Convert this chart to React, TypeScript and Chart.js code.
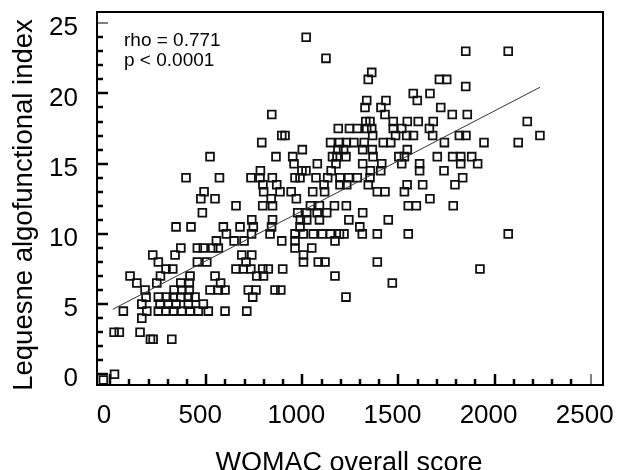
import React, { useEffect, useRef } from "react";
import { Chart, registerables } from "chart.js";

Chart.register(...registerables);

// Lequesne index levels (y) and the WOMAC scores (x) of the patients at each level
const lequesneLevels = [
  24, 23, 22.5, 21.5, 21, 20.5, 20, 19.5, 19, 18.5, 18, 17.5, 17, 16.5, 16, 15.5, 15, 14.5, 14, 13.5, 13, 12.5, 12,
  11.5, 11, 10.5, 10, 9.5, 9, 8.5, 8, 7.5, 7, 6.5, 6, 5.5, 5, 4.5, 4, 3, 2.5, 0, -0.4,
];
const womacByLevel = [
  [1020],
  [1850, 2071],
  [1123],
  [1361],
  [1343, 1713, 1751],
  [1850],
  [1577, 1664],
  [1335, 1435, 1598],
  [1326, 1409, 1720],
  [841, 1430, 1780, 1858],
  [1330, 1352, 1473, 1546, 1603, 1681, 2170],
  [1187, 1245, 1286, 1335, 1361, 1473, 1517, 1661],
  [893, 910, 1366, 1485, 1543, 1578, 1678, 1817, 1851, 2236],
  [789, 1147, 1193, 1229, 1268, 1322, 1421, 1460, 1739, 1945, 2123],
  [1000, 1185, 1215, 1314, 1364, 1546],
  [520, 863, 950, 1157, 1180, 1227, 1368, 1502, 1531, 1702, 1782, 1824, 1881],
  [957, 1078, 1175, 1314, 1413, 1517, 1610, 1824, 1912],
  [782, 998, 1019, 1150, 1354, 1408, 1610, 1737],
  [395, 569, 733, 780, 844, 962, 988, 1071, 1132, 1196, 1241, 1286, 1352, 1834],
  [795, 867, 1113, 1196, 1231, 1343, 1545, 1626, 1794],
  [489, 799, 884, 942, 1054, 1116, 1390, 1430, 1531],
  [472, 546, 838, 969, 1664],
  [655, 794, 845, 1042, 1089, 1167, 1229, 1551, 1593, 1785],
  [480, 976, 1023, 1077, 1127, 1314],
  [737, 845, 990, 1023, 1089, 1242, 1447],
  [343, 421, 589, 676, 745, 840, 988, 1299],
  [605, 736, 832, 962, 1005, 1057, 1104, 1146, 1193, 1217, 1312, 1390, 1551, 2071],
  [553, 645, 697, 893, 962, 1170],
  [368, 454, 485, 534, 563, 962, 1049],
  [222, 338, 685, 737, 1006],
  [251, 454, 503, 707, 1006, 1083, 1118, 1390],
  [291, 326, 655, 693, 732, 794, 823, 898, 1924],
  [104, 262, 416, 546, 763, 798, 1170],
  [139, 243, 368, 412, 575, 1468],
  [182, 333, 373, 412, 520, 563, 598, 719, 759, 858, 888],
  [187, 251, 295, 329, 368, 407, 442, 742, 1227],
  [165, 260, 303, 343, 407, 485],
  [69, 191, 251, 291, 329, 373, 416, 459, 511, 598, 711],
  [165],
  [21, 48, 156],
  [210, 224, 321],
  [23],
  [-35],
];

// Regression line end points
const fitLineX = [14, 2236];
const fitLineY = [4.63, 20.44];

// Axes
const xTickValues = [0, 500, 1000, 1500, 2000, 2500];
const yTickValues = [0, 5, 10, 15, 20, 25];
const xMinorStep = 100;
const yMinorStep = 1;
const xAxisTitle = "WOMAC overall score";
const yAxisTitle = "Lequesne algofunctional index";
const statLines = ["rho = 0.771", "p < 0.0001"];

const FONT = '"Liberation Sans", Arial, Helvetica, sans-serif';

const framePlugin = {
  id: "frameAndTicks",
  afterDraw(chart: any) {
    const { ctx, chartArea: a, scales } = chart;
    const xs = scales.x;
    const ys = scales.y;
    ctx.save();
    ctx.strokeStyle = "#000";
    ctx.lineCap = "butt";
    const xMax = xTickValues[xTickValues.length - 1];
    const yMax = yTickValues[yTickValues.length - 1];
    for (let v = xTickValues[0]; v <= xMax; v += xMinorStep) {
      const major = xTickValues.includes(v);
      const px = Math.round(xs.getPixelForValue(v));
      ctx.lineWidth = v === xMax ? 1 : 2.5;
      ctx.beginPath();
      ctx.moveTo(px, a.bottom);
      ctx.lineTo(px, a.bottom - (major ? 11 : 6));
      ctx.stroke();
    }
    for (let v = yTickValues[0]; v <= yMax; v += yMinorStep) {
      const major = yTickValues.includes(v);
      const py = Math.round(ys.getPixelForValue(v));
      ctx.lineWidth = v === yMax ? 1 : 2.5;
      ctx.beginPath();
      ctx.moveTo(a.left, py);
      ctx.lineTo(a.left + (major ? 11 : 6), py);
      ctx.stroke();
    }
    ctx.lineWidth = 2;
    ctx.strokeRect(a.left, a.top, a.right - a.left, a.bottom - a.top);

    ctx.fillStyle = "#000";
    // statistics
    ctx.font = `19px ${FONT}`;
    ctx.textAlign = "left";
    ctx.textBaseline = "alphabetic";
    ctx.fillText(statLines[0], a.left + 27, 45.5);
    ctx.fillText(statLines[1], a.left + 27, 66);

    // axis titles
    ctx.font = `27px ${FONT}`;
    ctx.textAlign = "center";
    ctx.fillText(xAxisTitle, 349, 471);
    ctx.save();
    ctx.translate(32, 205);
    ctx.rotate(-Math.PI / 2);
    ctx.font = `27.5px ${FONT}`;
    ctx.fillText(yAxisTitle, 0, 0);
    ctx.restore();
    ctx.restore();
  },
};

export default function App() {
  const canvasRef = useRef<HTMLCanvasElement | null>(null);

  useEffect(() => {
    const canvas = canvasRef.current;
    if (!canvas) return;
    const points = lequesneLevels.flatMap((lvl, i) => womacByLevel[i].map((w) => ({ x: w, y: lvl })));
    const fit = fitLineX.map((x, i) => ({ x, y: fitLineY[i] }));

    const chart = new Chart(canvas, {
      type: "scatter",
      data: {
        datasets: [
          {
            type: "line",
            data: fit,
            borderColor: "#333",
            borderWidth: 1,
            pointRadius: 0,
            fill: false,
          } as any,
          {
            data: points,
            pointStyle: "rect",
            pointRadius: 5.5,
            borderColor: "#111",
            borderWidth: 1.8,
            backgroundColor: "rgba(0,0,0,0)",
          },
        ],
      },
      options: {
        responsive: false,
        devicePixelRatio: 1,
        animation: false,
        events: [],
        layout: { padding: { left: 0, top: 12, right: 15, bottom: 0 } },
        plugins: { legend: { display: false }, tooltip: { enabled: false } },
        scales: {
          x: {
            type: "linear",
            min: -68,
            max: 2564,
            grid: { display: false, drawTicks: false },
            border: { display: false },
            afterBuildTicks: (s: any) => {
              s.ticks = xTickValues.map((v) => ({ value: v }));
            },
            afterFit: (s: any) => {
              s.height = 85;
              s.paddingLeft = 0;
              s.paddingRight = 0;
            },
            ticks: {
              color: "#000",
              font: { family: FONT, size: 26 },
              padding: 15,
              labelOffset: -6,
              maxRotation: 0,
              autoSkip: false,
              callback: (v: any) => String(v),
            },
          },
          y: {
            type: "linear",
            min: -0.76,
            max: 25.8,
            grid: { display: false, drawTicks: false },
            border: { display: false },
            afterBuildTicks: (s: any) => {
              s.ticks = yTickValues.map((v) => ({ value: v }));
            },
            afterFit: (s: any) => {
              s.width = 97;
              s.paddingTop = 0;
              s.paddingBottom = 0;
            },
            ticks: {
              color: "#000",
              font: { family: FONT, size: 26 },
              padding: 19,
              labelOffset: 5,
              autoSkip: false,
              callback: (v: any) => String(v),
            },
          },
        },
      },
      plugins: [framePlugin],
    });
    return () => chart.destroy();
  }, []);

  return (
    <div style={{ position: "fixed", left: 0, top: 0, width: 618, height: 470, background: "#fff" }}>
      <canvas ref={canvasRef} width={618} height={470} style={{ display: "block" }} />
    </div>
  );
}
